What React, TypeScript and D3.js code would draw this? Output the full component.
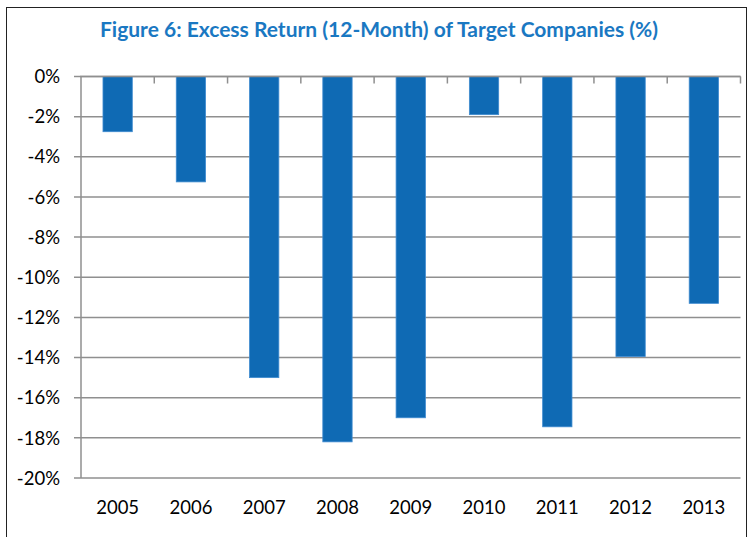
import React, { useEffect, useRef } from "react";
import * as d3 from "d3";

const years = ["2005", "2006", "2007", "2008", "2009", "2010", "2011", "2012", "2013"];
const excessReturn = [-2.75, -5.25, -15.0, -18.2, -17.0, -1.9, -17.45, -13.95, -11.3];
const yTicks = [0, -2, -4, -6, -8, -10, -12, -14, -16, -18, -20];

const title = "Figure 6: Excess Return (12-Month) of Target Companies (%)";

const W = 748;
const H = 537;

const App = () => {
  const svgRef = useRef<SVGSVGElement>(null);

  useEffect(() => {
    const svg = d3.select(svgRef.current);
    svg.selectAll("*").remove();

    const font = "Lato, 'Open Sans', sans-serif";
    const left = 81;
    const right = 740.5;
    const top = 76.5;
    const bottom = 478;

    // outer frame
    svg
      .append("rect")
      .attr("x", 6.5)
      .attr("y", 7.5)
      .attr("width", 740)
      .attr("height", 540)
      .attr("fill", "#fff")
      .attr("stroke", "#222")
      .attr("stroke-width", 1);

    svg
      .append("text")
      .attr("x", 379)
      .attr("y", 37)
      .attr("text-anchor", "middle")
      .attr("font-family", font)
      .attr("font-weight", "bold")
      .attr("font-size", 21)
      .attr("fill", "#1a78c2")
      .text(title);

    const x = d3.scaleBand().domain(years).range([left, right]).paddingInner(0.6).paddingOuter(0.3);
    const xOuter = d3.scaleBand().domain(years).range([left, right]);
    const y = d3.scaleLinear().domain([-20, 0]).range([bottom, top]);

    const grid = svg.append("g");
    grid
      .selectAll("line")
      .data(yTicks)
      .enter()
      .append("line")
      .attr("x1", left - 7)
      .attr("x2", right)
      .attr("y1", (d) => y(d))
      .attr("y2", (d) => y(d))
      .attr("stroke", "#8f8f8f")
      .attr("stroke-width", 1.5);

    // y axis line
    svg
      .append("line")
      .attr("x1", left)
      .attr("x2", left)
      .attr("y1", top)
      .attr("y2", bottom)
      .attr("stroke", "#8f8f8f")
      .attr("stroke-width", 1.5);

    svg
      .append("g")
      .selectAll("text")
      .data(yTicks)
      .enter()
      .append("text")
      .attr("x", 60)
      .attr("y", (d) => y(d))
      .attr("dy", "0.36em")
      .attr("text-anchor", "end")
      .attr("font-family", font)
      .attr("font-size", 18.5)
      .attr("fill", "#000")
      .text((d) => `${d}%`);

    svg
      .append("g")
      .selectAll("rect")
      .data(years)
      .enter()
      .append("rect")
      .attr("x", (d) => x(d)!)
      .attr("width", x.bandwidth())
      .attr("y", y(0))
      .attr("height", (d, i) => y(excessReturn[i]) - y(0))
      .attr("fill", "#0f6ab4")
      .attr("stroke", "#3f8bd0")
      .attr("stroke-width", 0.8);

    // category ticks on the zero axis
    svg
      .append("g")
      .selectAll("line")
      .data(years.slice(1).concat(["end"]))
      .enter()
      .append("line")
      .attr("x1", (d, i) => (i < years.length - 1 ? xOuter(d)! : right))
      .attr("x2", (d, i) => (i < years.length - 1 ? xOuter(d)! : right))
      .attr("y1", top)
      .attr("y2", top + 7)
      .attr("stroke", "#8f8f8f")
      .attr("stroke-width", 1.5);

    svg
      .append("line")
      .attr("x1", left - 1)
      .attr("x2", right)
      .attr("y1", top)
      .attr("y2", top)
      .attr("stroke", "#8f8f8f")
      .attr("stroke-width", 1.5);

    svg
      .append("g")
      .selectAll("text")
      .data(years)
      .enter()
      .append("text")
      .attr("x", (d) => xOuter(d)! + xOuter.bandwidth() / 2)
      .attr("y", 514)
      .attr("text-anchor", "middle")
      .attr("font-family", font)
      .attr("font-size", 18.5)
      .attr("fill", "#000")
      .text((d) => d);
  }, []);

  return (
    <div style={{ position: "fixed", left: 0, top: 0, width: W, height: H, background: "#fff" }}>
      <svg ref={svgRef} width={W} height={H} style={{ display: "block" }}></svg>
    </div>
  );
};

export default App;
